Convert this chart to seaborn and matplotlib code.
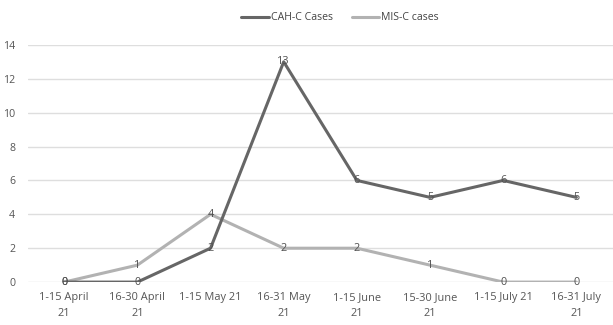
import matplotlib
matplotlib.use("Agg")
import matplotlib.pyplot as plt
import seaborn as sns
import pandas as pd
from matplotlib.lines import Line2D

periods = ["1-15 April\n21", "16-30 April\n21", "1-15 May 21", "16-31 May\n21",
           "1-15 June\n21", "15-30 June\n21", "1-15 July 21", "16-31 July\n21"]
cah_c = [0, 0, 2, 13, 6, 5, 6, 5]
mis_c = [0, 1, 4, 2, 2, 1, 0, 0]
series_names = ["CAH-C Cases", "MIS-C cases"]
series_colors = ["#666666", "#b2b2b2"]
y_ticks = [0, 2, 4, 6, 8, 10, 12, 14]

df = pd.concat([
    pd.DataFrame({"period": periods, "cases": cah_c, "series": series_names[0]}),
    pd.DataFrame({"period": periods, "cases": mis_c, "series": series_names[1]}),
])

sns.set_theme(style="white")
plt.rcParams["font.family"] = ["Open Sans", "DejaVu Sans"]

fig = plt.figure(figsize=(6.13, 3.25), dpi=100)
ax = fig.add_axes([0.045, 0.132, 0.955, 0.730])

sns.lineplot(data=df, x="period", y="cases", hue="series",
             palette=dict(zip(series_names, series_colors)),
             hue_order=series_names[::-1], linewidth=2.2, ax=ax, legend=False,
             sort=False)

# value labels sit centred on each point
for name, vals, col in zip(series_names, [cah_c, mis_c], series_colors):
    for i, v in enumerate(vals):
        ax.text(i, v, str(v), ha="center", va="center", fontsize=7.8,
                color="#505050")

ax.set_xlim(-0.5, len(periods) - 0.5)
ax.set_ylim(0, 14)
ax.set_yticks(y_ticks)
ax.set_yticklabels([str(t) for t in y_ticks])
ax.yaxis.grid(True, color="#dedede", linewidth=1)
ax.set_axisbelow(True)
for s in ax.spines.values():
    s.set_visible(False)
ax.tick_params(axis="both", length=0, colors="#555555")
ax.tick_params(axis="y", pad=9, labelsize=7.6)
ax.tick_params(axis="x", pad=7, labelsize=7.9)
for lbl in ax.get_xticklabels():
    lbl.set_linespacing(1.6)
ax.set_xlabel("")
ax.set_ylabel("")

handles = [Line2D([0], [0], color=c, lw=2.2) for c in series_colors]
fig.legend(handles, series_names, loc="center", bbox_to_anchor=(0.555, 0.945),
           ncol=2, frameon=False, fontsize=7.6, handlelength=2.6,
           handletextpad=0.2, columnspacing=1.8, labelcolor="#444444")

fig.savefig("out.png", dpi=100)
